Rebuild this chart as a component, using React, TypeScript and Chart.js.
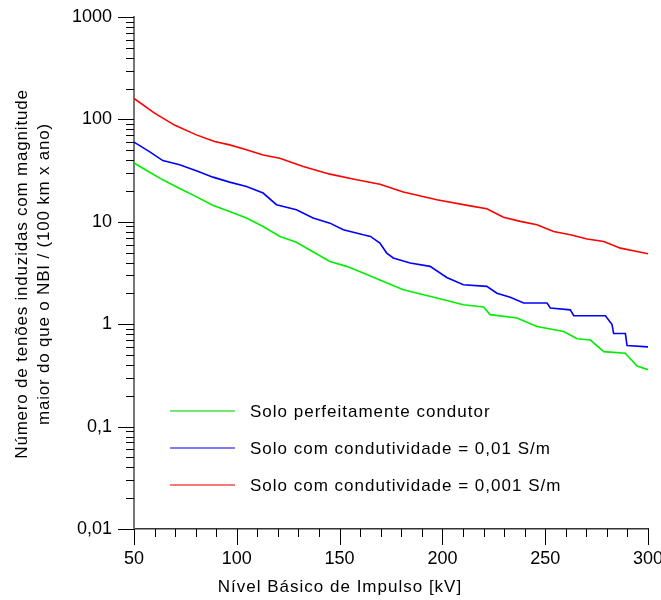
import React, { useEffect, useRef } from "react";
import { Chart, registerables } from "chart.js";

Chart.register(...registerables);

const FONT = "'Liberation Sans', Arial, sans-serif";

const seriesLabels = [
  "Solo perfeitamente condutor",
  "Solo com condutividade = 0,01 S/m",
  "Solo com condutividade = 0,001 S/m",
];
const seriesColors = ["#00ee00", "#0000ff", "#ff0000"];
const legendColors = ["#44e044", "#5050f5", "#f54848"];

const greenX = [50, 57, 64, 72, 80, 88, 96.5, 104.7, 112.8, 121, 129, 137, 145.3, 153.4, 161.5, 169.6, 181, 197.3, 210.2, 220, 223.2, 236.3, 246, 259, 265.5, 272, 278.5, 288.9, 294.7, 300];
const greenY = [37.5, 31, 25.7, 21.3, 17.7, 14.6, 12.6, 10.9, 9.0, 7.2, 6.3, 5.1, 4.1, 3.67, 3.16, 2.7, 2.17, 1.8, 1.55, 1.47, 1.24, 1.15, 0.95, 0.85, 0.72, 0.7, 0.54, 0.52, 0.39, 0.36];

const blueX = [50, 57.5, 64, 72.2, 80.3, 88.4, 96.5, 104.7, 112.8, 119.3, 129, 137.1, 145.3, 151.8, 161.5, 165, 169.6, 172.9, 176.1, 184.3, 194, 202.1, 210.2, 221.6, 226.5, 233, 239.5, 250.9, 252.5, 262.2, 263.9, 279.3, 282.5, 283.3, 289, 289.8, 300];
const blueY = [60, 48.5, 39.6, 36, 31.5, 27.3, 24.4, 22.1, 19.1, 14.7, 13.1, 10.9, 9.7, 8.35, 7.46, 7.2, 6.2, 4.95, 4.43, 3.96, 3.67, 2.86, 2.43, 2.34, 2.01, 1.83, 1.61, 1.61, 1.44, 1.38, 1.21, 1.21, 0.99, 0.81, 0.81, 0.62, 0.6];

const redX = [50, 60, 69.7, 80.3, 89.2, 96.5, 103.9, 112.8, 120.9, 132.3, 145.3, 158.3, 169.6, 181, 197.3, 213.5, 221.6, 229.7, 237.9, 246, 254.1, 262.2, 270.4, 278.5, 286.6, 294.7, 300];
const redY = [160, 115, 88, 70.6, 60.8, 56.4, 51.2, 45, 41.8, 34.7, 29.2, 25.7, 23.3, 19.5, 16.4, 14.3, 13.4, 11.1, 10.1, 9.35, 8.04, 7.46, 6.78, 6.42, 5.53, 5.13, 4.87];

const xMin = 50;
const xMax = 300;
const xMajorStep = 50;
const xMinorStep = 10;
const yMinExp = -2;
const yMaxExp = 3;
const yTickLabels = ["0,01", "0,1", "1", "10", "100", "1000"];

const xTitle = "Nível Básico de Impulso [kV]";
const yTitle = [
  "Número de tenões induzidas com magnitude",
  "maior do que o NBI / (100 km x ano)",
];

const toPoints = (xs: number[], ys: number[]) => xs.map((x, i) => ({ x, y: ys[i] }));

const decorPlugin = {
  id: "decor",
  afterDraw(chart: any) {
    const { ctx, chartArea, scales } = chart;
    const xs = scales.x;
    const ys = scales.y;
    ctx.save();
    ctx.strokeStyle = "#000";
    ctx.lineWidth = 1;
    // y ticks
    for (let e = yMinExp; e <= yMaxExp; e++) {
      for (let m = 1; m <= 9; m++) {
        const v = m * Math.pow(10, e);
        if (v > Math.pow(10, yMaxExp) * 1.0001) break;
        const py = Math.round(ys.getPixelForValue(v)) + 0.5;
        const len = m === 1 ? 16 : 8;
        ctx.beginPath();
        ctx.moveTo(chartArea.left - len, py);
        ctx.lineTo(chartArea.left, py);
        ctx.stroke();
      }
    }
    // x ticks
    for (let v = xMin; v <= xMax; v += xMinorStep) {
      const px = Math.round(xs.getPixelForValue(v)) + 0.5;
      const len = v % xMajorStep === 0 ? 16 : 8;
      ctx.beginPath();
      ctx.moveTo(px, chartArea.bottom);
      ctx.lineTo(px, chartArea.bottom + len);
      ctx.stroke();
    }
    // titles
    ctx.fillStyle = "#000";
    ctx.font = `17px ${FONT}`;
    (ctx as any).letterSpacing = "1px";
    ctx.textAlign = "center";
    ctx.textBaseline = "alphabetic";
    ctx.fillText(xTitle, 340, 592);
    ctx.save();
    (ctx as any).letterSpacing = "0.8px";
    ctx.translate(0, 274);
    ctx.rotate(-Math.PI / 2);
    ctx.fillText(yTitle[0], 0, 27);
    ctx.fillText(yTitle[1], 0, 49);
    ctx.restore();
    // legend
    const rows = [411, 448, 485];
    chart.data.datasets.forEach((ds: any, i: number) => {
      const y = rows[i];
      ctx.strokeStyle = legendColors[i];
      ctx.lineWidth = 1.5;
      ctx.beginPath();
      ctx.moveTo(170, y);
      ctx.lineTo(235, y);
      ctx.stroke();
      ctx.fillStyle = "#000";
      ctx.textAlign = "left";
      ctx.textBaseline = "middle";
      ctx.font = `17px ${FONT}`;
      (ctx as any).letterSpacing = "1px";
      ctx.fillText(ds.label, 250, y + 1);
    });
    (ctx as any).letterSpacing = "0px";
    ctx.restore();
  },
};

export default function App() {
  const ref = useRef<HTMLCanvasElement | null>(null);
  useEffect(() => {
    document.body.style.margin = "0";
    const canvas = ref.current;
    if (!canvas) return;
    const chart = new Chart(canvas, {
      type: "line",
      data: {
        datasets: [
          { label: seriesLabels[0], data: toPoints(greenX, greenY), borderColor: seriesColors[0], backgroundColor: seriesColors[0], borderWidth: 1.6, pointRadius: 0, tension: 0 },
          { label: seriesLabels[1], data: toPoints(blueX, blueY), borderColor: seriesColors[1], backgroundColor: seriesColors[1], borderWidth: 1.6, pointRadius: 0, tension: 0 },
          { label: seriesLabels[2], data: toPoints(redX, redY), borderColor: seriesColors[2], backgroundColor: seriesColors[2], borderWidth: 1.6, pointRadius: 0, tension: 0 },
        ],
      },
      options: {
        responsive: false,
        animation: false,
        layout: { padding: { top: 17, right: 13, left: 0, bottom: 0 } },
        plugins: { legend: { display: false }, tooltip: { enabled: false } },
        scales: {
          x: {
            type: "linear",
            min: xMin,
            max: xMax,
            grid: { drawOnChartArea: false, color: "rgba(0,0,0,0)", tickLength: 16 },
            border: { display: true, color: "#333", width: 1.5 },
            ticks: {
              stepSize: xMajorStep,
              color: "#000",
              padding: 3,
              maxRotation: 0,
              font: { family: FONT, size: 18 },
            },
            afterFit: (s: any) => {
              s.height = 71;
              s.paddingLeft = 0;
              s.paddingRight = 0;
            },
          },
          y: {
            type: "logarithmic",
            min: Math.pow(10, yMinExp),
            max: Math.pow(10, yMaxExp),
            grid: { drawOnChartArea: false, color: "rgba(0,0,0,0)", tickLength: 16 },
            border: { display: true, color: "#777", width: 2 },
            ticks: {
              autoSkip: false,
              color: "#000",
              padding: 6,
              font: { family: FONT, size: 18 },
              callback: (v: any) => {
                const l = Math.log10(Number(v));
                const r = Math.round(l);
                if (Math.abs(l - r) < 1e-6 && r >= yMinExp && r <= yMaxExp) return yTickLabels[r - yMinExp];
                return "";
              },
            },
            afterFit: (s: any) => {
              s.width = 134;
              s.paddingTop = 0;
              s.paddingBottom = 0;
            },
          },
        },
      },
      plugins: [decorPlugin],
    });
    return () => chart.destroy();
  }, []);
  return <canvas ref={ref} width={661} height={600} style={{ display: "block" }} />;
}
